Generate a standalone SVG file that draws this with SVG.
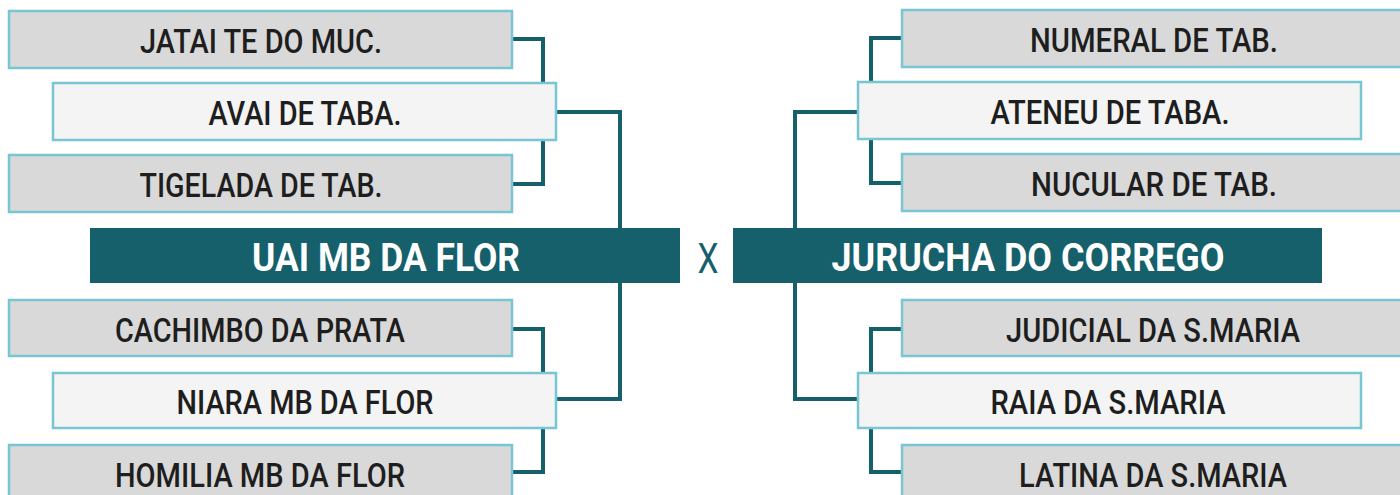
<svg xmlns="http://www.w3.org/2000/svg" width="1400" height="495" viewBox="0 0 1400 495">
<style>
.g{fill:#d9d9d9;stroke:#78c5d3;stroke-width:2.5}
.l{fill:#f4f4f4;stroke:#78c5d3;stroke-width:2.5}
.bar{fill:#16606c}
.t{font-family:Roboto,"Liberation Sans",sans-serif;font-weight:500;font-size:32.5px;fill:#1e1e1e;text-anchor:middle}
.bt{font-family:Roboto,"Liberation Sans",sans-serif;font-weight:700;font-size:39px;fill:#ffffff;text-anchor:middle}
.x{font-family:Roboto,"Liberation Sans",sans-serif;font-weight:400;font-size:42px;fill:#16606c;text-anchor:middle}
.c{fill:none;stroke:#16606c;stroke-width:4;stroke-linejoin:miter}
</style>
<rect width="1400" height="495" fill="#ffffff"/>
<g id="connectors">
<path class="c" d="M512,39 H543 V184 H512"/>
<path class="c" d="M556,112 H620 V228"/>
<path class="c" d="M512,329 H543 V472 H512"/>
<path class="c" d="M556,399 H620 V283"/>
<path class="c" d="M902,38 H871 V183 H902"/>
<path class="c" d="M858,112 H795 V228"/>
<path class="c" d="M902,329 H871 V472 H902"/>
<path class="c" d="M858,399 H795 V283"/>
</g>
<g id="jatai"><rect class="g" x="9" y="11" width="503" height="57"/><text class="t" x="261" y="53" textLength="242" lengthAdjust="spacingAndGlyphs">JATAI TE DO MUC.</text></g>
<g id="avai"><rect class="l" x="53" y="83" width="503" height="57"/><text class="t" x="305" y="125" textLength="193" lengthAdjust="spacingAndGlyphs">AVAI DE TABA.</text></g>
<g id="tigelada"><rect class="g" x="9" y="155" width="503" height="57"/><text class="t" x="261" y="197" textLength="243" lengthAdjust="spacingAndGlyphs">TIGELADA DE TAB.</text></g>
<g id="uai"><rect class="bar" x="90" y="228" width="590" height="55"/><text class="bt" x="386" y="271" textLength="268" lengthAdjust="spacingAndGlyphs">UAI MB DA FLOR</text></g>
<g id="cachimbo"><rect class="g" x="9" y="300" width="503" height="56"/><text class="t" x="260" y="342" textLength="290" lengthAdjust="spacingAndGlyphs">CACHIMBO DA PRATA</text></g>
<g id="niara"><rect class="l" x="53" y="373" width="503" height="55"/><text class="t" x="305" y="414" textLength="257" lengthAdjust="spacingAndGlyphs">NIARA MB DA FLOR</text></g>
<g id="homilia"><rect class="g" x="9" y="445" width="503" height="57"/><text class="t" x="260" y="487" textLength="290" lengthAdjust="spacingAndGlyphs">HOMILIA MB DA FLOR</text></g>
<g id="vs"><text class="x" x="708" y="273" textLength="21" lengthAdjust="spacingAndGlyphs">X</text></g>
<g id="numeral"><rect class="g" x="902" y="10" width="504" height="57"/><text class="t" x="1154" y="52" textLength="248" lengthAdjust="spacingAndGlyphs">NUMERAL DE TAB.</text></g>
<g id="ateneu"><rect class="l" x="858" y="82" width="503" height="57"/><text class="t" x="1110" y="124" textLength="239" lengthAdjust="spacingAndGlyphs">ATENEU DE TABA.</text></g>
<g id="nucular"><rect class="g" x="902" y="154" width="504" height="57"/><text class="t" x="1154" y="196" textLength="246" lengthAdjust="spacingAndGlyphs">NUCULAR DE TAB.</text></g>
<g id="jurucha"><rect class="bar" x="733" y="228" width="589" height="55"/><text class="bt" x="1028" y="271" textLength="393" lengthAdjust="spacingAndGlyphs">JURUCHA DO CORREGO</text></g>
<g id="judicial"><rect class="g" x="902" y="300" width="504" height="56"/><text class="t" x="1153" y="342" textLength="294" lengthAdjust="spacingAndGlyphs">JUDICIAL DA S.MARIA</text></g>
<g id="raia"><rect class="l" x="858" y="373" width="503" height="55"/><text class="t" x="1108" y="414" textLength="235" lengthAdjust="spacingAndGlyphs">RAIA DA S.MARIA</text></g>
<g id="latina"><rect class="g" x="902" y="445" width="504" height="57"/><text class="t" x="1153" y="487" textLength="268" lengthAdjust="spacingAndGlyphs">LATINA DA S.MARIA</text></g>
</svg>
